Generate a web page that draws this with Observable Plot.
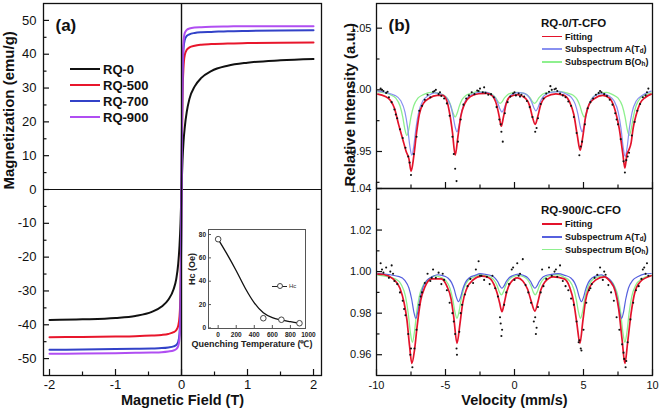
<!DOCTYPE html>
<html><head><meta charset="utf-8">
<script src="https://cdn.jsdelivr.net/npm/d3@7"></script>
<script src="https://cdn.jsdelivr.net/npm/@observablehq/plot@0.6"></script>
<style>
body{margin:0;background:#fff;}
#chart{position:relative;width:661px;height:415px;overflow:hidden;background:#fff;font-family:"Liberation Sans",Arial,Helvetica,sans-serif;}
.leg{position:absolute;white-space:nowrap;font-weight:bold;color:#111;line-height:1;}
.leg sub{font-size:0.7em;vertical-align:-0.3em;line-height:0;}
.sw{position:absolute;}
</style></head>
<body><div id="chart"></div>
<script>
// ---------------- Panel (a): M-H loops ----------------
const sampleNames = ["RQ-0", "RQ-500", "RQ-700", "RQ-900"];
const sampleColors = ["#111111", "#e8162c", "#3242c8", "#b04ef2"];
const fieldH = [-2, -1.5, -1, -0.7, -0.45, -0.3, -0.2, -0.12, -0.08, -0.05, -0.03, -0.015, -0.005, 0,
  0.005, 0.015, 0.03, 0.05, 0.08, 0.12, 0.2, 0.3, 0.45, 0.7, 1, 1.5, 2];
const magRQ0 = [-38.6, -38.4, -38.0, -37.4, -36.2, -34.6, -32.6, -29.5, -26.5, -22, -16.5, -10, -3.5, 0,
  3, 8.5, 14, 18.5, 23, 26.8, 30.5, 33, 35, 36.6, 37.5, 38.2, 38.6];
const magRQ500 = [-43.7, -43.6, -43.5, -43.4, -43.2, -43.0, -42.7, -42.2, -41.6, -40.3, -37.5, -30, -12, 0,
  11, 27, 36, 39.8, 41.3, 42.0, 42.5, 42.8, 43.0, 43.2, 43.3, 43.4, 43.5];
const magRQ700 = [-47.4, -47.3, -47.2, -47.1, -47.0, -46.9, -46.7, -46.4, -46.0, -45.0, -42.5, -35, -15, 0,
  14, 33, 41.5, 44.3, 45.4, 45.9, 46.3, 46.5, 46.6, 46.8, 46.9, 47.0, 47.1];
const magRQ900 = [-48.6, -48.5, -48.4, -48.3, -48.2, -48.1, -47.9, -47.6, -47.2, -46.3, -44, -37, -16, 0,
  15, 35, 43.5, 46.3, 47.2, 47.6, 47.9, 48.0, 48.1, 48.2, 48.3, 48.3, 48.3];
const magnetization = [magRQ0, magRQ500, magRQ700, magRQ900];
const xTicksA = [-2, -1, 0, 1, 2];
const xMinorA = [-1.5, -0.5, 0.5, 1.5];
const yTicksA = [-50, -40, -30, -20, -10, 0, 10, 20, 30, 40, 50];
const yMinorA = [-45, -35, -25, -15, -5, 5, 15, 25, 35, 45];

// inset: coercivity vs quenching temperature
const quenchT = [0, 500, 700, 900];
const coerc = [76, 8.3, 7, 4];
const fitT = [0, 100, 200, 300, 400, 500, 600, 700, 800, 900];
const fitHc = [76, 63, 49, 34, 21.5, 13, 8.8, 6.8, 5.3, 4];
const insetXTicks = [0, 200, 400, 600, 800, 1000];
const insetYTicks = [0, 20, 40, 60, 80];

// ---------------- Panel (b): Mossbauer spectra ----------------
const specLabels = ["Fitting", "Subspectrum A(T<sub>d</sub>)", "Subspectrum B(O<sub>h</sub>)"];
const specColorsTop = ["#e3132b", "#8890f0", "#8ef08e"];
const specColorsBot = ["#e3132b", "#5660de", "#8ef08e"];
const xTicksB = [-10, -5, 0, 5, 10];
const xMinorB = [-7.5, -2.5, 2.5, 7.5];
const yTicksTop = [0.95, 1.00, 1.05];
const yMinorTop = [0.925, 0.975, 1.025];
const yTicksBot = [0.96, 0.98, 1.00, 1.02, 1.04];
const yMinorBot = [0.97, 0.99, 1.01, 1.03];

// RQ-0/T-CFO
const fitTop = [[-9.9,0.9965],[-9.4,0.9948],[-9.0,0.9915],[-8.7,0.985],[-8.4,0.972],[-8.1,0.960],[-7.85,0.950],[-7.65,0.944],[-7.49,0.934],[-7.3,0.946],
 [-7.1,0.965],[-6.9,0.980],[-6.6,0.989],[-6.2,0.993],[-5.6,0.9955],[-5.2,0.9955],[-4.9,0.991],[-4.7,0.981],[-4.5,0.966],[-4.3,0.947],
 [-4.1,0.962],[-3.9,0.978],[-3.6,0.989],[-3.2,0.9945],[-2.6,0.9968],[-2.0,0.9972],[-1.6,0.995],[-1.3,0.988],[-1.1,0.978],[-0.96,0.9705],
 [-0.8,0.978],[-0.6,0.989],[-0.3,0.9945],[0.2,0.996],[0.8,0.993],[1.1,0.987],[1.3,0.978],[1.5,0.972],[1.7,0.979],[1.9,0.988],
 [2.3,0.9945],[3.0,0.9968],[3.6,0.9955],[4.0,0.990],[4.3,0.980],[4.55,0.963],[4.76,0.951],[4.95,0.962],[5.15,0.978],[5.4,0.988],
 [5.8,0.993],[6.4,0.9955],[6.9,0.993],[7.3,0.983],[7.6,0.968],[7.85,0.948],[8.0,0.9366],[8.15,0.948],[8.3,0.9515],[8.45,0.957],
 [8.6,0.969],[8.8,0.979],[9.1,0.989],[9.5,0.994],[9.9,0.9965]];
const subATop = [[-9.9,0.999],[-8.64,0.9953],[-8.24,0.9911],[-7.94,0.9822],[-7.74,0.969],[-7.59,0.9549],[-7.44,0.947],[-7.29,0.9549],[-7.14,0.969],[-6.94,0.9822],[-6.64,0.9911],[-6.24,0.9953],
 [-5.8,0.9975],[-5.37,0.9968],[-4.97,0.9941],[-4.67,0.9884],[-4.47,0.9801],[-4.32,0.971],[-4.17,0.966],[-4.02,0.971],[-3.87,0.9801],[-3.67,0.9884],[-3.37,0.9941],[-2.97,0.9968],
 [-2.55,0.998],[-2.11,0.9981],[-1.71,0.9967],[-1.41,0.9937],[-1.21,0.9893],[-1.06,0.9846],[-0.91,0.982],[-0.76,0.9846],[-0.61,0.9893],[-0.41,0.9937],[-0.11,0.9967],
 [0.32,0.9978],[0.75,0.9969],[1.05,0.9941],[1.25,0.9899],[1.40,0.9855],[1.55,0.983],[1.70,0.9855],[1.85,0.9899],[2.05,0.9941],[2.35,0.9969],[2.75,0.9982],
 [3.2,0.9985],[3.70,0.9968],[4.10,0.9941],[4.40,0.9884],[4.60,0.9801],[4.75,0.971],[4.90,0.966],[5.05,0.971],[5.20,0.9801],[5.40,0.9884],[5.70,0.9941],[6.10,0.9968],
 [6.45,0.997],[6.82,0.9952],[7.22,0.9909],[7.52,0.9818],[7.72,0.9685],[7.87,0.954],[8.02,0.946],[8.17,0.954],[8.32,0.9685],[8.52,0.9818],[8.82,0.9909],[9.22,0.9952],[9.9,0.999]];
const subBTop = [[-9.9,0.9983],[-9.0,0.9961],[-8.6,0.9932],[-8.3,0.9871],[-8.1,0.9781],[-7.95,0.9684],[-7.8,0.963],[-7.65,0.9684],[-7.5,0.9781],[-7.3,0.9871],[-7.0,0.9932],[-6.6,0.9961],
 [-6.05,0.998],[-5.5,0.9973],[-5.1,0.9956],[-4.8,0.9921],[-4.6,0.9868],[-4.45,0.9812],[-4.3,0.978],[-4.15,0.9812],[-4.0,0.9868],[-3.8,0.9921],[-3.5,0.9956],[-3.1,0.9973],
 [-2.67,0.9985],[-2.24,0.9982],[-1.84,0.9974],[-1.54,0.9957],[-1.34,0.9932],[-1.19,0.9905],[-1.04,0.989],[-0.89,0.9905],[-0.74,0.9932],[-0.54,0.9957],[-0.24,0.9974],
 [0.2,0.998],[0.65,0.9974],[0.95,0.9957],[1.15,0.9932],[1.30,0.9905],[1.45,0.989],[1.60,0.9905],[1.75,0.9932],[1.95,0.9957],[2.25,0.9974],[2.65,0.9982],
 [3.25,0.9987],[3.85,0.9973],[4.25,0.9956],[4.55,0.9921],[4.75,0.9868],[4.9,0.9812],[5.05,0.978],[5.2,0.9812],[5.35,0.9868],[5.55,0.9921],[5.85,0.9956],[6.25,0.9973],
 [6.68,0.998],[7.11,0.9961],[7.51,0.9932],[7.81,0.9871],[8.01,0.9781],[8.16,0.9684],[8.31,0.963],[8.46,0.9684],[8.61,0.9781],[8.81,0.9871],[9.11,0.9932],[9.51,0.9961],[9.9,0.9975]];
const dotsTop = [[-9.7,1.001],[-9.6,1.000],[-9.5,0.999],[-9.3,0.9975],[-9.2,0.9985],[-9.1,0.994],[-8.9,0.990],[-8.7,0.984],[-8.6,0.980],[-8.5,0.977],[-8.3,0.968],[-8.1,0.961],
 [-7.9,0.953],[-7.7,0.946],[-7.6,0.941],[-7.5,0.931],[-7.3,0.948],[-7.1,0.962],[-6.9,0.983],[-6.7,0.987],[-6.5,0.992],[-6.3,0.996],[-6.1,0.994],[-5.9,0.9985],
 [-5.8,0.999],[-5.7,1.000],[-5.5,0.9965],[-5.4,0.998],[-5.3,0.995],[-5.1,0.993],[-4.9,0.989],[-4.7,0.979],[-4.5,0.962],[-4.4,0.948],[-4.3,0.936],[-4.2,0.926],
 [-4.1,0.958],[-3.9,0.976],[-3.7,0.988],[-3.5,0.993],[-3.3,0.9955],[-3.1,0.998],[-2.9,0.9965],[-2.7,0.9995],[-2.6,0.999],[-2.5,1.001],[-2.3,0.998],[-2.2,1.002],
 [-2.1,0.9975],[-1.9,0.996],[-1.7,0.9965],[-1.5,0.994],[-1.3,0.986],[-1.1,0.976],[-1.0,0.972],[-0.95,0.966],[-0.85,0.958],[-0.7,0.981],[-0.5,0.990],[-0.3,0.9945],
 [-0.1,0.997],[0.0,0.998],[0.1,0.9955],[0.3,0.997],[0.4,0.9945],[0.5,0.996],[0.7,0.9945],[0.9,0.991],[1.1,0.986],[1.3,0.978],[1.5,0.966],[1.6,0.969],
 [1.7,0.977],[1.9,0.9885],[2.1,0.993],[2.3,0.997],[2.5,0.9985],[2.6,1.003],[2.7,1.000],[2.9,1.0005],[3.0,1.001],[3.1,0.999],[3.3,0.997],[3.5,0.9955],
 [3.7,0.994],[3.9,0.9905],[4.1,0.987],[4.3,0.978],[4.5,0.965],[4.7,0.947],[4.8,0.954],[4.9,0.958],[5.1,0.972],[5.3,0.985],[5.5,0.990],[5.7,0.993],
 [5.9,0.996],[6.1,0.9975],[6.2,0.999],[6.3,0.998],[6.5,0.9965],[6.7,0.995],[6.9,0.992],[7.1,0.988],[7.3,0.981],[7.4,0.976],[7.5,0.972],[7.7,0.960],
 [7.9,0.942],[8.0,0.933],[8.1,0.943],[8.2,0.946],[8.3,0.949],[8.5,0.963],[8.7,0.974],[8.9,0.983],[9.1,0.9885],[9.3,0.994],[9.5,0.9955],[9.6,0.998],[9.7,1.001]];

// RQ-900/C-CFO
const fitBot = [[-9.9,0.9988],[-9.5,0.9986],[-8.8,0.9965],[-8.3,0.992],[-8.0,0.985],[-7.8,0.977],[-7.6,0.964],[-7.44,0.9558],[-7.25,0.962],[-7.05,0.974],[-6.8,0.986],[-6.5,0.9925],[-6.0,0.9965],
 [-5.3,0.9965],[-4.9,0.993],[-4.6,0.987],[-4.4,0.978],[-4.17,0.9655],[-3.95,0.975],[-3.75,0.985],[-3.45,0.992],[-3.0,0.996],[-2.4,0.9978],
 [-1.9,0.9972],[-1.5,0.994],[-1.25,0.9895],[-1.08,0.985],[-0.91,0.9807],[-0.74,0.985],[-0.55,0.9905],[-0.3,0.9945],[0.2,0.997],
 [0.6,0.9955],[0.95,0.9915],[1.2,0.986],[1.48,0.981],[1.7,0.9855],[1.9,0.991],[2.2,0.995],[2.8,0.9975],
 [3.6,0.9965],[4.0,0.9925],[4.3,0.985],[4.52,0.975],[4.74,0.9655],[4.95,0.976],[5.15,0.986],[5.45,0.9925],[5.9,0.996],[6.5,0.9975],
 [6.9,0.9955],[7.3,0.9905],[7.55,0.982],[7.8,0.967],[8.0,0.9558],[8.2,0.966],[8.45,0.98],[8.7,0.9895],[9.1,0.995],[9.9,0.998]];
const subABot = [[-9.9,0.9991],[-8.35,0.9976],[-7.95,0.9958],[-7.65,0.9921],[-7.45,0.9867],[-7.3,0.9808],[-7.15,0.9775],[-7.0,0.9808],[-6.85,0.9867],[-6.65,0.9921],[-6.35,0.9958],[-5.95,0.9976],
 [-5.6,0.9985],[-5.26,0.9982],[-4.86,0.9971],[-4.56,0.9947],[-4.36,0.9913],[-4.21,0.9876],[-4.06,0.9855],[-3.91,0.9876],[-3.76,0.9913],[-3.56,0.9947],[-3.26,0.9971],[-2.86,0.9982],
 [-2.5,0.999],[-2.11,0.9987],[-1.71,0.9981],[-1.41,0.9969],[-1.21,0.9951],[-1.06,0.9931],[-0.91,0.992],[-0.76,0.9931],[-0.61,0.9951],[-0.41,0.9969],[-0.11,0.9981],
 [0.28,0.9988],[0.68,0.9981],[0.98,0.9969],[1.18,0.9951],[1.33,0.9931],[1.48,0.992],[1.63,0.9931],[1.78,0.9951],[1.98,0.9969],[2.28,0.9981],[2.68,0.9987],
 [3.15,0.999],[3.65,0.9982],[4.05,0.9971],[4.35,0.9947],[4.55,0.9913],[4.7,0.9876],[4.85,0.9855],[5.0,0.9876],[5.15,0.9913],[5.35,0.9947],[5.65,0.9971],[6.05,0.9982],
 [6.3,0.9985],[6.56,0.9976],[6.96,0.9958],[7.26,0.9921],[7.46,0.9867],[7.61,0.9808],[7.76,0.9775],[7.91,0.9808],[8.06,0.9867],[8.26,0.9921],[8.56,0.9958],[8.96,0.9976],[9.4,0.9988],[9.9,0.9991]];
const subBBot = [[-9.9,0.9983],[-8.6,0.9964],[-8.2,0.9937],[-7.9,0.9881],[-7.7,0.9799],[-7.55,0.9709],[-7.4,0.966],[-7.25,0.9709],[-7.1,0.9799],[-6.9,0.9881],[-6.6,0.9937],[-6.2,0.9964],
 [-5.8,0.998],[-5.37,0.9973],[-4.97,0.9956],[-4.67,0.9919],[-4.47,0.9865],[-4.32,0.9807],[-4.17,0.9775],[-4.02,0.9807],[-3.87,0.9865],[-3.67,0.9919],[-3.37,0.9956],[-2.97,0.9973],
 [-2.56,0.9985],[-2.15,0.9982],[-1.75,0.9974],[-1.45,0.9956],[-1.25,0.9931],[-1.1,0.9903],[-0.95,0.9888],[-0.8,0.9903],[-0.65,0.9931],[-0.45,0.9956],[-0.15,0.9974],
 [0.28,0.9982],[0.7,0.9974],[1.0,0.9956],[1.2,0.9931],[1.35,0.9903],[1.5,0.9888],[1.65,0.9903],[1.8,0.9931],[2.0,0.9956],[2.3,0.9974],[2.7,0.9982],
 [3.14,0.9986],[3.58,0.9973],[3.98,0.9956],[4.28,0.9919],[4.48,0.9865],[4.63,0.9807],[4.78,0.9775],[4.93,0.9807],[5.08,0.9865],[5.28,0.9919],[5.58,0.9956],[5.98,0.9973],
 [6.39,0.998],[6.8,0.9964],[7.2,0.9937],[7.5,0.9881],[7.7,0.9799],[7.85,0.9709],[8.0,0.966],[8.15,0.9709],[8.3,0.9799],[8.5,0.9881],[8.8,0.9937],[9.2,0.9964],[9.9,0.9982]];
const dotsBot = [[-9.7,1.004],[-9.6,1.001],[-9.5,0.9995],[-9.3,1.002],[-9.1,0.997],[-9.0,1.000],[-8.9,1.003],[-8.8,0.999],[-8.7,0.9955],[-8.5,0.994],[-8.3,0.990],[-8.1,0.986],
 [-8.0,0.982],[-7.9,0.979],[-7.7,0.970],[-7.55,0.960],[-7.5,0.963],[-7.4,0.954],[-7.25,0.963],[-7.1,0.972],[-6.9,0.984],[-6.8,0.988],[-6.7,0.990],[-6.5,0.9945],
 [-6.3,0.999],[-6.1,0.9955],[-6.0,0.997],[-5.9,1.001],[-5.7,0.997],[-5.5,0.9995],[-5.3,0.994],[-5.2,0.999],[-5.1,0.996],[-4.9,0.991],[-4.7,0.985],[-4.5,0.980],
 [-4.4,0.976],[-4.3,0.970],[-4.2,0.963],[-4.17,0.960],[-4.0,0.971],[-3.9,0.980],[-3.8,0.984],[-3.6,0.989],[-3.4,0.993],[-3.2,0.9965],[-3.0,0.9945],[-2.8,1.001],
 [-2.6,1.005],[-2.5,0.998],[-2.4,0.998],[-2.2,0.996],[-2.0,0.9975],[-1.8,0.994],[-1.6,0.998],[-1.4,0.992],[-1.2,0.988],[-1.05,0.978],[-1.0,0.975],[-0.95,0.969],
 [-0.9,0.972],[-0.75,0.984],[-0.6,0.990],[-0.4,0.994],[-0.2,1.001],[-0.1,1.002],[0.0,0.996],[0.2,1.004],[0.3,0.998],[0.4,0.999],[0.6,1.006],[0.8,0.9935],
 [1.0,0.990],[1.2,0.985],[1.4,0.976],[1.5,0.978],[1.55,0.970],[1.6,0.973],[1.7,0.983],[1.9,0.990],[2.0,1.001],[2.1,0.993],[2.3,0.9965],[2.5,1.002],
 [2.7,0.998],[2.9,1.000],[3.0,1.001],[3.1,0.9975],[3.3,1.003],[3.5,0.9955],[3.7,0.993],[3.9,0.991],[4.1,0.987],[4.3,0.984],[4.5,0.976],[4.65,0.966],
 [4.7,0.967],[4.8,0.963],[4.85,0.962],[5.0,0.972],[5.2,0.985],[5.4,0.991],[5.5,0.992],[5.6,0.994],[5.8,0.997],[6.0,0.9985],[6.2,1.002],[6.4,0.996],
 [6.5,1.000],[6.6,0.9985],[6.8,0.9935],[7.0,0.990],[7.2,0.986],[7.4,0.978],[7.6,0.972],[7.8,0.965],[7.9,0.961],[7.95,0.958],[8.05,0.954],[8.1,0.957],
 [8.2,0.966],[8.4,0.977],[8.6,0.985],[8.8,0.991],[9.0,0.993],[9.2,0.9965],[9.3,1.001],[9.4,1.002],[9.5,0.999],[9.6,1.004],[9.7,0.998]];

// ---------------- drawing ----------------
const chart = document.getElementById("chart");
const FONT = '"Liberation Sans", Arial, Helvetica, sans-serif';
const baseStyle = {fontFamily: FONT, fontSize: "13px", color: "#111", background: "transparent", overflow: "visible"};
function place(svg, left, top) {
  svg.style.position = "absolute";
  svg.style.left = left + "px";
  svg.style.top = top + "px";
  svg.style.maxWidth = "none";
  chart.append(svg);
}
const toObj = (arr) => arr.map(([x, y]) => ({x, y}));

// Panel (a)
const A = {w: 330, h: 415, ml: 43, mr: 9, mt: 3, mb: 40};
const Aw = A.w - A.ml - A.mr, Ah = A.h - A.mt - A.mb;
const plotA = Plot.plot({
  width: A.w, height: A.h,
  marginLeft: A.ml, marginRight: A.mr, marginTop: A.mt, marginBottom: A.mb,
  x: {domain: [-2.091, 2.121], axis: null},
  y: {domain: [-55, 55], axis: null},
  style: baseStyle,
  marks: [
    Plot.ruleY([0], {stroke: "#111", strokeWidth: 1.2}),
    ...sampleNames.map((name, i) => Plot.line(fieldH.map((h, j) => ({h, m: magnetization[i][j]})),
      {x: "h", y: "m", stroke: sampleColors[i], strokeWidth: 2, curve: "monotone-x"})),
    Plot.ruleX([0], {stroke: "#111", strokeWidth: 1.4}),
    Plot.frame({stroke: "#111", strokeWidth: 1.3}),
    Plot.tickX(xTicksA, {x: d => d, insetTop: Ah - 6, stroke: "#111", strokeWidth: 1.2}),
    Plot.tickX(xMinorA, {x: d => d, insetTop: Ah - 3.5, stroke: "#111", strokeWidth: 1.2}),
    Plot.tickY(yTicksA, {y: d => d, insetRight: Aw - 6, stroke: "#111", strokeWidth: 1.2}),
    Plot.tickY(yMinorA, {y: d => d, insetRight: Aw - 3.5, stroke: "#111", strokeWidth: 1.2}),
    Plot.text(xTicksA, {x: d => d, frameAnchor: "bottom", dy: 13, text: d => String(d), fontSize: 13, fill: "#111"}),
    Plot.text(yTicksA, {y: d => d, frameAnchor: "left", dx: -7, textAnchor: "end", text: d => String(d), fontSize: 13, fill: "#111"}),
    Plot.text(["Magnetization (emu/g)"], {frameAnchor: "left", dx: -34, rotate: -90, text: d => d, fontWeight: "bold", fontSize: 15, fill: "#111"}),
    Plot.text(["Magnetic Field (T)"], {frameAnchor: "bottom", dy: 29.5, text: d => d, fontWeight: "bold", fontSize: 14.5, fill: "#111"}),
    Plot.text(["(a)"], {frameAnchor: "top-left", dx: 12, dy: 15, textAnchor: "start", text: d => d, fontWeight: "bold", fontSize: 17, fill: "#111"})
  ]
});
place(plotA, 0, 0);

// Inset
const I = {w: 135, h: 135, ml: 28, mr: 10, mt: 9, mb: 27};
const Iw = I.w - I.ml - I.mr, Ih = I.h - I.mt - I.mb;
const plotI = Plot.plot({
  width: I.w, height: I.h,
  marginLeft: I.ml, marginRight: I.mr, marginTop: I.mt, marginBottom: I.mb,
  x: {domain: [-107, 967], axis: null},
  y: {domain: [-0.5, 84.3], axis: null},
  style: baseStyle,
  marks: [
    Plot.frame({stroke: "#555", strokeWidth: 1}),
    Plot.tickX(insetXTicks.filter(d => d < 967), {x: d => d, insetTop: Ih - 3, stroke: "#555"}),
    Plot.tickY(insetYTicks, {y: d => d, insetRight: Iw - 3, stroke: "#555"}),
    Plot.line(fitT.map((t, i) => ({t, h: fitHc[i]})), {x: "t", y: "h", curve: "monotone-x", stroke: "#111", strokeWidth: 1.3}),
    Plot.dot(quenchT.map((t, i) => ({t, h: coerc[i]})), {x: "t", y: "h", r: 2.8, stroke: "#444", fill: "white", strokeWidth: 1}),
    Plot.text(insetXTicks, {x: d => d, frameAnchor: "bottom", dy: 8, text: d => String(d), fontSize: 6.5, fontWeight: "bold", fill: "#222"}),
    Plot.text(insetYTicks, {y: d => d, frameAnchor: "left", dx: -2.5, textAnchor: "end", text: d => String(d), fontSize: 6.5, fontWeight: "bold", fill: "#222"}),
    Plot.text(["Hc (Oe)"], {frameAnchor: "left", dx: -16, dy: 6, rotate: -90, text: d => d, fontSize: 9, fontWeight: "bold", fill: "#222"}),
    Plot.text(["Quenching Temperature (℃)"], {frameAnchor: "bottom", dx: -5, dy: 18, text: d => d, fontSize: 9, fontWeight: "bold", fill: "#222"})
  ]
});
place(plotI, 180, 220);

// Panel (b)
function spectrum({top, height, mt, mb, domain, yMajor, yMinor, yFmt, fit, subA, subB, dots, colors, extra}) {
  const w = 331, ml = 46, mr = 9;
  const fw = w - ml - mr, fh = height - mt - mb;
  const p = Plot.plot({
    width: w, height,
    marginLeft: ml, marginRight: mr, marginTop: mt, marginBottom: mb,
    x: {domain: [-10, 10], axis: null},
    y: {domain, axis: null},
    style: baseStyle,
    marks: [
      Plot.line(toObj(subB), {x: "x", y: "y", stroke: colors[2], strokeWidth: 1.3, curve: "monotone-x"}),
      Plot.line(toObj(subA), {x: "x", y: "y", stroke: colors[1], strokeWidth: 1.2, curve: "monotone-x"}),
      Plot.line(toObj(fit), {x: "x", y: "y", stroke: colors[0], strokeWidth: 1.7, curve: "monotone-x"}),
      Plot.dot(toObj(dots), {x: "x", y: "y", r: 1.05, fill: "#111", stroke: null}),
      Plot.frame({stroke: "#111", strokeWidth: 1.3}),
      Plot.tickX(xTicksB, {x: d => d, insetTop: fh - 6, stroke: "#111", strokeWidth: 1.2}),
      Plot.tickX(xMinorB, {x: d => d, insetTop: fh - 3.5, stroke: "#111", strokeWidth: 1.2}),
      Plot.tickY(yMajor, {y: d => d, insetRight: fw - 6, stroke: "#111", strokeWidth: 1.2}),
      Plot.tickY(yMinor, {y: d => d, insetRight: fw - 3.5, stroke: "#111", strokeWidth: 1.2}),
      Plot.text(yMajor, {y: d => d, frameAnchor: "left", dx: -5, textAnchor: "end", text: yFmt, fontSize: 11, fill: "#111"}),
      ...extra
    ]
  });
  place(p, 330, top);
}
spectrum({top: 0, height: 190, mt: 3, mb: 2, domain: [0.92, 1.07], yMajor: yTicksTop, yMinor: yMinorTop,
  yFmt: d => d.toFixed(2), fit: fitTop, subA: subATop, subB: subBTop, dots: dotsTop, colors: specColorsTop,
  extra: [Plot.text(["(b)"], {frameAnchor: "top-left", dx: 12, dy: 15, textAnchor: "start", text: d => d, fontWeight: "bold", fontSize: 17, fill: "#111"})]});
spectrum({top: 186, height: 229, mt: 2, mb: 40, domain: [0.95, 1.04], yMajor: yTicksBot, yMinor: yMinorBot,
  yFmt: d => d.toFixed(2), fit: fitBot, subA: subABot, subB: subBBot, dots: dotsBot, colors: specColorsBot,
  extra: [
    Plot.text(xTicksB, {x: d => d, frameAnchor: "bottom", dy: 13, text: d => String(d), fontSize: 11, fill: "#111"}),
    Plot.text(["Velocity (mm/s)"], {frameAnchor: "bottom", dy: 29.5, text: d => d, fontWeight: "bold", fontSize: 14.5, fill: "#111"}),
    Plot.text(["Relative Intensity (a.u.)"], {frameAnchor: "top-left", dx: -32, dy: -2, rotate: -90, text: d => d, fontWeight: "bold", fontSize: 15, fill: "#111"})
  ]});

// ---------------- legends (HTML overlays) ----------------
function legend(items, {x, y0, dy, len, gap, lw, fs}) {
  items.forEach((it, i) => {
    const yc = y0 + i * dy;
    const sw = document.createElement("div");
    sw.className = "sw";
    sw.style.cssText = `left:${x}px;top:${yc - lw / 2}px;width:${len}px;height:${lw}px;background:${it.color}`;
    chart.append(sw);
    const t = document.createElement("div");
    t.className = "leg";
    t.style.cssText = `left:${x + len + gap}px;top:${yc}px;transform:translateY(-50%);font-size:${fs}px`;
    t.innerHTML = it.label;
    chart.append(t);
  });
}
function title(text, x, yc, fs) {
  const t = document.createElement("div");
  t.className = "leg";
  t.style.cssText = `left:${x}px;top:${yc}px;transform:translateY(-50%);font-size:${fs}px`;
  t.textContent = text;
  chart.append(t);
}
legend(sampleNames.map((s, i) => ({label: s, color: sampleColors[i]})), {x: 70, y0: 69, dy: 16, len: 30, gap: 3, lw: 2.5, fs: 13});
title("RQ-0/T-CFO", 541, 24, 11.5);
legend(specLabels.map((s, i) => ({label: s, color: specColorsTop[i]})), {x: 542, y0: 36.5, dy: 12.7, len: 20, gap: 3, lw: 1.6, fs: 9});
title("RQ-900/C-CFO", 541, 211, 11.5);
legend(specLabels.map((s, i) => ({label: s, color: specColorsBot[i]})), {x: 542, y0: 224, dy: 12.8, len: 20, gap: 3, lw: 1.6, fs: 9});

// inset legend: line with open circle + "Hc"
(function () {
  const ln = document.createElement("div");
  ln.className = "sw";
  ln.style.cssText = "left:272px;top:285.5px;width:15px;height:1px;background:#222";
  chart.append(ln);
  const c = document.createElement("div");
  c.className = "sw";
  c.style.cssText = "left:276.5px;top:283px;width:4px;height:4px;border:1px solid #444;border-radius:50%;background:#fff";
  chart.append(c);
  const t = document.createElement("div");
  t.className = "leg";
  t.style.cssText = "left:289px;top:286px;transform:translateY(-50%);font-size:6px;font-weight:normal;color:#333";
  t.textContent = "Hc";
  chart.append(t);
})();
</script>
</body></html>
